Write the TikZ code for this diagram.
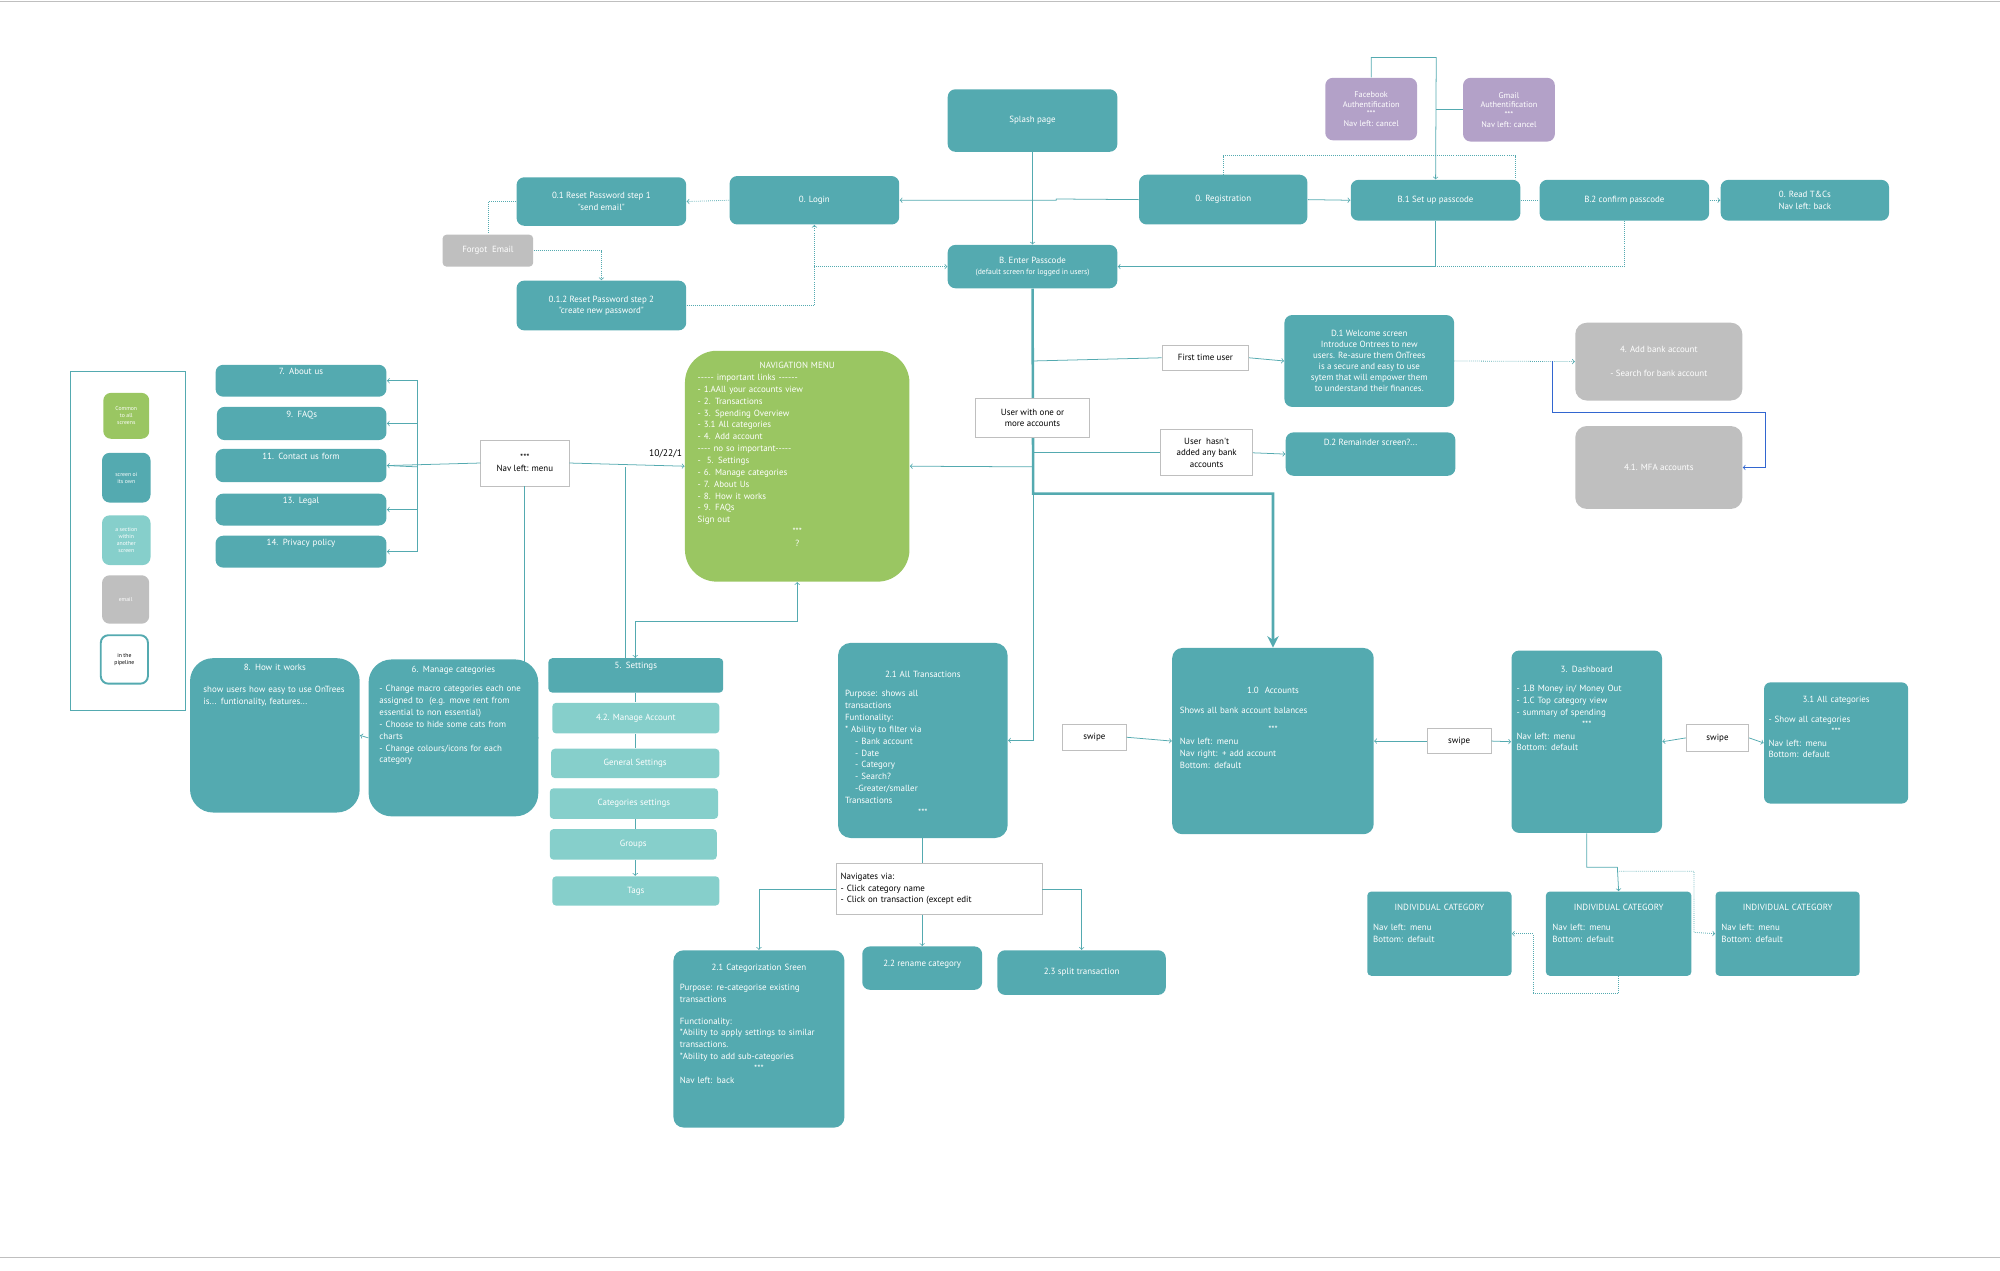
\documentclass[tikz,border=0pt]{standalone}
\usepackage{fontspec}
\setmainfont{PT Sans}[Ligatures=TeXOff]
\usetikzlibrary{positioning,calc,arrows.meta}
\definecolor{teal1}{HTML}{54AAB0}
\definecolor{lteal}{HTML}{86CFCB}
\definecolor{lgreen}{HTML}{9AC662}
\definecolor{lgrey}{HTML}{BFBFBF}
\definecolor{lpurp}{HTML}{B3A1C8}
\newcommand{\nohyph}{\hyphenpenalty10000\relax}
\tikzset{every picture/.style={line width=0.6pt}}
\tikzset{
screen/.style={fill=teal1, rounded corners=6pt, text=white, align=center, font=\fontsize{7}{9}\selectfont, inner sep=2pt},
section/.style={screen, fill=lteal},
email/.style={screen, fill=lgrey},
auth/.style={screen, fill=lpurp},
note/.style={draw=lgrey, fill=white, align=center, font=\fontsize{7}{9}\selectfont, inner sep=2pt},
lbl/.style={anchor=north, text=white, align=left, font=\fontsize{7}{9.3}\selectfont\nohyph, inner sep=0pt},
hd/.style n args={3}{label={[lbl, yshift=-#1, text width=#2]north:#3}},
con/.style={teal1, -to},
dot/.style={teal1, densely dotted, -to},
}
\newcommand{\ctr}[1]{\makebox[\linewidth]{#1}}
\begin{document}
\begin{tikzpicture}[x=1pt,y=-1pt]
\useasboundingbox (0,0) rectangle (1568,996);
\draw[lgrey] (0,1) -- (1568,1);
\draw[lgrey] (0,986) -- (1568,986);

% login / registration
\node[screen, minimum width=133, minimum height=49] (splash) at (809.5,94.5) {Splash page};
\node[screen, minimum width=133, minimum height=38] (login) at (638.5,157) {0. Login};
\node[screen, minimum width=133, minimum height=38] (reset1) at (471.5,158) {0.1 Reset Password step 1\\ "send email"};
\node[email, minimum width=71, minimum height=25, rounded corners=3pt] (forgot) at (382.5,196.5) {Forgot\ \ Email};
\node[screen, minimum width=133, minimum height=39] (reset2) at (471.5,239.5) {0.1.2 Reset Password step 2\\ "create new password"};
\node[screen, minimum width=132, minimum height=39] (regist) at (959,156.5) {0. Registration};
\node[screen, minimum width=133, minimum height=32] (setpass) at (1125.5,157) {B.1 Set up passcode};
\node[screen, minimum width=133, minimum height=32] (confpass) at (1273.5,157) {B.2 confirm passcode};
\node[screen, minimum width=132, minimum height=32] (terms) at (1415,157) {0. Read T\&Cs\\ Nav left: back};
\node[auth, minimum width=72, minimum height=49, font=\fontsize{6.5}{7.6}\selectfont] (facebook) at (1075,85.5) {Facebook\\ Authentification\\ ***\\ Nav left: cancel};
\node[auth, minimum width=72, minimum height=50, font=\fontsize{6.5}{7.6}\selectfont] (gmail) at (1183,86) {Gmail\\ Authentification\\ ***\\ Nav left: cancel};
\node[screen, minimum width=133, minimum height=34] (passcode) at (809.5,209) {B. Enter Passcode\\ {\fontsize{6}{7}\selectfont(default screen for logged in users)}};

% first launch
\node[screen, minimum width=133, minimum height=72, font=\fontsize{7}{8.6}\selectfont] (welcome) at (1073.5,283) {D.1 Welcome screen\\ Introduce Ontrees to new\\ users. Re-asure them OnTrees\\ is a secure and easy to use\\ sytem that will empower them\\ to understand their finances.};
\node[email, minimum width=131, minimum height=61, rounded corners=9pt] (addbank) at (1300.5,283.5) {4. Add bank account\\[10pt] - Search for bank account};
\node[email, minimum width=131, minimum height=65, rounded corners=9pt] (mfa) at (1300.5,366.5) {4.1. MFA accounts};
\node[screen, minimum width=133, minimum height=34] (remind) at (1074.5,356) {};
\node[lbl, below=5pt of remind.north] {D.2 Remainder screen?...};
\node[note, minimum width=68, minimum height=19] (firstlbl) at (945,280.5) {First time user};
\node[note, minimum width=72, minimum height=36] (nonelbl) at (946,355) {User\ \ hasn't\\ added any bank\\ accounts};

% navigation menu
\node[screen, fill=lgreen, rounded corners=25pt, minimum width=176, minimum height=181, hd={9pt}{156pt}{\ctr{NAVIGATION MENU}\\ ----- important links ------\\ - 1.AAll your accounts view\\ - 2. Transactions\\ - 3. Spending Overview\\ - 3.1 All categories\\ - 4. Add account\\ ---- no so important-----\\ -\ \ 5. Settings\\ - 6. Manage categories\\ - 7. About Us\\ - 8. How it works\\ - 9. FAQs\\ Sign out\\ \ctr{***}\\ \ctr{?}}] (navmenu) at (625,365.5) {};
\node[note, minimum width=69, minimum height=36] (navlbl) at (411.5,363) {***\\ Nav left: menu};
\node[font=\fontsize{7.5}{8}\selectfont, anchor=east, inner sep=1pt] (date) at (536,356) {10/22/1};
\node[screen, minimum width=134, minimum height=25, hd={3pt}{130pt}{\ctr{7. About us}}] (about) at (236,298.5) {};
\node[screen, minimum width=133, minimum height=26, hd={3pt}{130pt}{\ctr{9. FAQs}}] (faqs) at (236.5,332) {};
\node[screen, minimum width=134, minimum height=26, hd={3pt}{130pt}{\ctr{11. Contact us form}}] (contact) at (236,365) {};
\node[screen, minimum width=134, minimum height=25, hd={3pt}{130pt}{\ctr{13. Legal}}] (legal) at (236,399.5) {};
\node[screen, minimum width=134, minimum height=25, hd={3pt}{130pt}{\ctr{14. Privacy policy}}] (privacy) at (236,432.5) {};

% legend
\draw[teal1] (55,291) rectangle (145,557);
\node[screen, fill=lgreen, minimum width=36, minimum height=36, font=\fontsize{4.5}{5.6}\selectfont] (legcommon) at (99,326) {Common\\ to all\\ screens};
\node[screen, minimum width=38, minimum height=39, font=\fontsize{4.5}{5.6}\selectfont] (legscreen) at (99,374.5) {screen oi\\ its own};
\node[section, minimum width=38, minimum height=39, font=\fontsize{4.5}{5.6}\selectfont] (legsection) at (99,423.5) {a section\\ within\\ another\\ screen};
\node[email, minimum width=37, minimum height=38, font=\fontsize{4.5}{5.6}\selectfont] (legemail) at (98.5,470) {email};
\node[screen, draw=teal1, line width=1.5pt, fill=white, text=black, minimum width=37, minimum height=38, font=\fontsize{4.5}{5.6}\selectfont] (legpipe) at (97.5,517) {in the\\ pipeline};

% menu destinations
\node[screen, rounded corners=18pt, minimum width=133, minimum height=121, hd={5pt}{112pt}{\centering 8. How it works\\[8pt] show users how easy to use OnTrees is... funtionality, features...}] (howit) at (215.5,576.5) {};
\node[screen, rounded corners=18pt, minimum width=133, minimum height=123, hd={5pt}{116pt}{\ctr{6. Manage categories}\\[6pt] - Change macro categories each one assigned to\ \ (e.g. move rent from essential to non essential)\\ - Choose to hide some cats from charts\\ - Change colours/icons for each category}] (managecat) at (355.5,578.5) {};
\node[screen, rounded corners=3pt, minimum width=137, minimum height=27, hd={3pt}{130pt}{\ctr{5. Settings}}] (settings) at (498.5,529.5) {};
\node[section, rounded corners=3pt, minimum width=131, minimum height=24] (manageacc) at (498.5,563) {4.2. Manage Account};
\node[section, rounded corners=3pt, minimum width=132, minimum height=23] (general) at (498,598.5) {General Settings};
\node[section, rounded corners=3pt, minimum width=132, minimum height=24] (catset) at (497,630) {Categories settings};
\node[section, rounded corners=3pt, minimum width=131, minimum height=24] (groups) at (496.5,662) {Groups};
\node[section, rounded corners=3pt, minimum width=131, minimum height=23] (tags) at (498.5,698.5) {Tags};

% main screens
\node[screen, rounded corners=10pt, minimum width=133, minimum height=153, hd={22pt}{122pt}{\ctr{2.1 All Transactions}\\[6pt] Purpose: shows all\\ transactions\\ Funtionality:\\ {*} Ability to filter via\\ \hspace*{8pt}- Bank account\\ \hspace*{8pt}- Date\\ \hspace*{8pt}- Category\\ \hspace*{8pt}- Search?\\ \hspace*{8pt}-Greater/smaller\\ Transactions\\ \ctr{***}}] (alltrans) at (723.5,580.5) {};
\node[screen, rounded corners=8pt, minimum width=158, minimum height=146, hd={31pt}{146pt}{\ctr{1.0\ \ Accounts}\\[6pt] Shows all bank account balances\\[6pt] \ctr{***}\\ Nav left: menu\\ Nav right: + add account\\ Bottom: default}] (accounts) at (998,581) {};
\node[screen, rounded corners=6pt, minimum width=118, minimum height=143, hd={12pt}{110pt}{\ctr{3. Dashboard}\\[6pt] - 1.B Money in/ Money Out\\ - 1.C Top category view\\ - summary of spending\\ \ctr{***}\\ Nav left: menu\\ Bottom: default}] (dashboard) at (1244,581.5) {};
\node[screen, rounded corners=5pt, minimum width=113, minimum height=95, hd={11pt}{106pt}{\ctr{3.1 All categories}\\[6pt] - Show all categories\\ \ctr{***}\\ Nav left: menu\\ Bottom: default}] (allcats) at (1439.5,582.5) {};
\node[note, minimum width=50, minimum height=20] (swipe1) at (858,578) {swipe};
\node[note, minimum width=50, minimum height=20] (swipe2) at (1144,581) {swipe};
\node[note, minimum width=49, minimum height=21] (swipe3) at (1346.5,578.5) {swipe};
\node[note, minimum width=161, minimum height=40, align=left, text width=155pt] (navvia) at (736.5,697) {Navigates via:\\ - Click category name\\ - Click on transaction (except edit};
\node[screen, rounded corners=8pt, minimum width=134, minimum height=139, hd={11pt}{124pt}{\ctr{2.1 Categorization Sreen}\\[6pt] Purpose: re-categorise existing transactions\\[8pt] Functionality:\\ {*}Ability to apply settings to similar transactions.\\ {*}Ability to add sub-categories\\ \ctr{***}\\ Nav left: back}] (categorize) at (595,814.5) {};
\node[screen, minimum width=94, minimum height=34] (rename) at (723,759) {};
\node[lbl, below=11pt of rename.north] {2.2 rename category};
\node[screen, minimum width=132, minimum height=35] (split) at (848,762.5) {2.3 split transaction};
\node[screen, rounded corners=3pt, minimum width=113, minimum height=66, hd={10pt}{104pt}{\ctr{INDIVIDUAL CATEGORY}\\[6pt] Nav left: menu\\ Bottom: default}] (indiv1) at (1128.5,732) {};
\node[screen, rounded corners=3pt, minimum width=114, minimum height=66, hd={10pt}{104pt}{\ctr{INDIVIDUAL CATEGORY}\\[6pt] Nav left: menu\\ Bottom: default}] (indiv2) at (1269,732) {};
\node[screen, rounded corners=3pt, minimum width=113, minimum height=66, hd={10pt}{104pt}{\ctr{INDIVIDUAL CATEGORY}\\[6pt] Nav left: menu\\ Bottom: default}] (indiv3) at (1401.5,732) {};

% connectors, top
\draw[con] (splash) -- (passcode);
\draw[con] (regist.west) -- (828,156) -- (828,157) -- (login.east);
\draw[dot] (login.west) -- (reset1.east);
\draw[teal1, densely dotted] (reset1.west) -| (forgot.north);
\draw[dot] (forgot.east) -| (reset2.north);
\draw[dot] (reset2.east) -| (login.south);
\draw[dot] (638,209) -- (passcode.west);
\draw[con] (regist.east) -- (setpass.west);
\draw[teal1, densely dotted] (regist.north) |- (1188,122) -- (confpass.north -| 1188,0);
\draw[con] (facebook.north) |- (1126,45) -- (setpass.north);
\draw[teal1] (gmail.west) -- (1126,86);
\draw[con] (setpass.south) |- (passcode.east);
\draw[teal1, densely dotted] (confpass.south) |- (1126,209);
\draw[teal1, densely dotted] (setpass.east) -- (confpass.west);
\draw[dot] (confpass.east) -- (terms.west);

% connectors, middle
\draw[teal1, line width=2pt, -{Stealth[length=9pt,width=9pt]}] (passcode.south) -- (810,387) -| (accounts.north);
\draw[teal1] (810,283) -- (firstlbl.west);
\draw[con] (firstlbl.east) -- (welcome.west);
\draw[teal1] (810,355) -- (nonelbl.west);
\draw[con] (nonelbl.east) -- (remind.west);
\draw[dot] (welcome.east) -- (addbank.west);
\draw[teal1!60!blue, -to] (1217,283) |- (1384,323) |- (mfa.east);
\draw[con] (810,366) -- (navmenu.east);
\draw[con] (810,366) |- (alltrans.east);
\node[note, minimum width=89, minimum height=31] (onelbl) at (809.5,327.5) {User with one or\\ more accounts};
\draw[con] (navlbl.east) -- (navmenu.west);
\draw[teal1] (navlbl.west) -- (contact.east);
\draw[con] (327,366) |- (about.east);
\draw[con] (327,366) |- (faqs.east);
\draw[con] (327,366) -- (contact.east);
\draw[con] (327,366) |- (legal.east);
\draw[con] (327,366) |- (privacy.east);
\draw[teal1] (490,366) -- (490,516);
\draw[con] (navlbl.south) |- (managecat.east);
\draw[con] (managecat.west) -- (howit.east);
\draw[con] (498,516) -- (498,487) -| (navmenu.south);
\draw[con] (498,487) -- (settings.north -| 498,0);
\draw[teal1] (settings.south -| 498,0) -- (manageacc.north -| 498,0);
\draw[teal1] (manageacc.south -| 498,0) -- (general.north -| 498,0);
\draw[teal1] (catset.south -| 498,0) -- (groups.north -| 498,0);
\draw[con] (groups.south -| 498,0) -- (tags.north -| 498,0);

% connectors, bottom
\draw[con] (swipe1.east) -- (accounts.west);
\draw[con] (swipe2.west) -- (accounts.east);
\draw[con] (swipe2.east) -- (dashboard.west);
\draw[con] (swipe3.west) -- (dashboard.east);
\draw[con] (swipe3.east) -- (allcats.west);
\draw[teal1] (alltrans.south) -- (navvia.north -| alltrans.south);
\draw[con] (navvia.west) -| (categorize.north);
\draw[con] (navvia.south -| rename.north) -- (rename.north);
\draw[con] (navvia.east) -| (split.north);
\draw[con] (dashboard.south) |- (1268,680) -- (indiv2.north);
\draw[dot] (1268,683) -| (1328,731) -- (indiv3.west);
\draw[dot] (indiv2.south) |- (1202,779) |- (indiv1.east);
\end{tikzpicture}
\end{document}
